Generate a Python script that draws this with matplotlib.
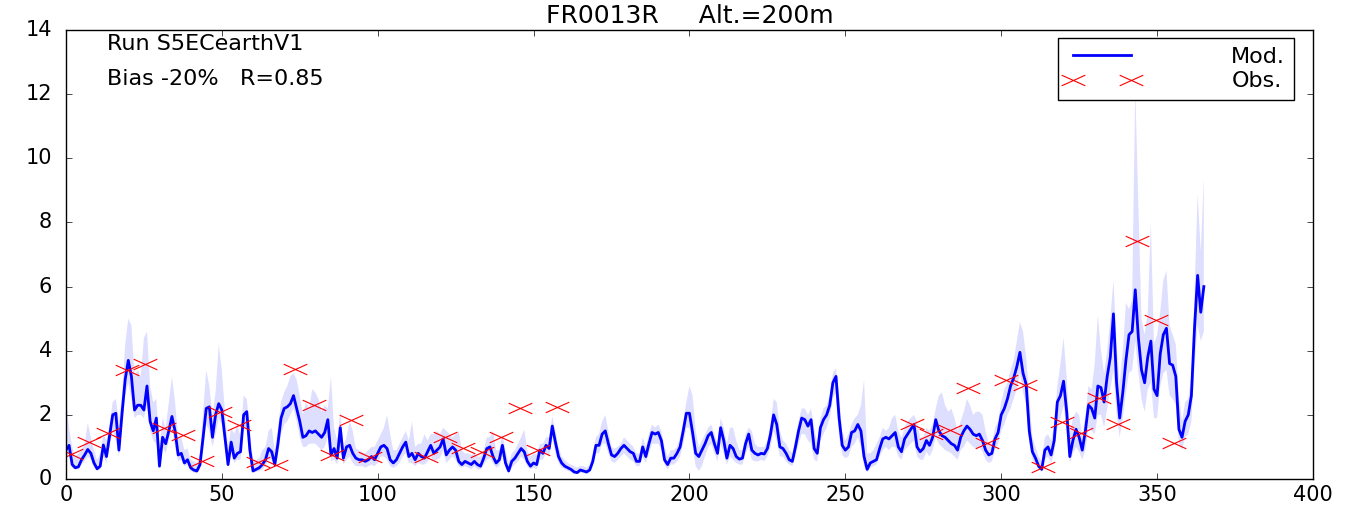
import numpy as np
import matplotlib
matplotlib.use('Agg')
import matplotlib.pyplot as plt
from matplotlib.path import Path

# --- Chart data ---
site = 'FR0013R'
altitude = 200
run_name = 'S5ECearthV1'
bias_pct = -20
corr = 0.85

days = np.arange(366)

mod = [0.9, 1.05, 0.45, 0.35, 0.38, 0.6, 0.75, 0.92, 0.8, 0.5,
       0.32, 0.4, 1.06, 0.7, 1.35, 2.0, 2.05, 0.9, 2.05, 3.1,
       3.7, 3.2, 2.15, 2.3, 2.3, 2.15, 2.9, 1.8, 1.5, 1.9,
       0.4, 1.3, 1.1, 1.5, 1.95, 1.5, 0.75, 0.8, 0.5, 0.6,
       0.35, 0.28, 0.25, 0.45, 1.3, 2.2, 2.25, 1.3, 2.0, 2.35,
       2.15, 1.3, 0.45, 1.15, 0.65, 0.8, 0.85, 2.0, 2.1, 0.9,
       0.25, 0.3, 0.35, 0.45, 0.6, 0.95, 0.85, 0.45, 1.1, 1.9,
       2.2, 2.25, 2.35, 2.6, 2.2, 1.8, 1.3, 1.35, 1.5, 1.45,
       1.5, 1.4, 1.3, 1.45, 1.85, 0.75, 0.95, 0.65, 1.6, 0.65,
       1.0, 1.05, 0.8, 0.65, 0.6, 0.6, 0.55, 0.6, 0.7, 0.6,
       0.8, 1.0, 1.05, 0.95, 0.6, 0.5, 0.6, 0.8, 1.0, 1.15,
       0.7, 0.8, 0.6, 0.8, 0.7, 0.65, 0.85, 1.05, 0.8, 0.9,
       1.0, 1.25, 0.75, 0.9, 1.0, 0.9, 0.55, 0.45, 0.55, 0.5,
       0.45, 0.55, 0.45, 0.4, 0.65, 0.95, 1.0, 0.7, 0.5, 0.6,
       1.05, 0.5, 0.25, 0.55, 0.65, 0.8, 0.95, 0.85, 0.55, 0.4,
       0.5, 0.45, 0.9, 0.8, 1.05, 0.95, 1.65, 1.15, 0.7, 0.5,
       0.4, 0.35, 0.3, 0.22, 0.2, 0.28, 0.25, 0.22, 0.28, 0.55,
       1.05, 1.05, 1.4, 1.5, 1.1, 0.75, 0.7, 0.8, 0.95, 1.05,
       0.95, 0.85, 0.8, 0.55, 0.55, 1.0, 0.7, 1.1, 1.45, 1.4,
       1.45, 1.2, 0.6, 0.45, 0.65, 0.65, 0.8, 1.0, 1.5, 2.05,
       2.05, 1.45, 0.8, 0.7, 0.9, 1.1, 1.35, 1.45, 1.1, 0.8,
       1.6, 1.2, 0.65, 1.05, 0.95, 0.7, 0.62, 0.65, 1.1, 1.4,
       0.9, 0.8, 0.75, 0.8, 0.78, 0.95, 1.4, 2.0, 1.7, 1.0,
       0.95, 0.8, 0.6, 0.55, 1.0, 1.5, 1.9, 1.85, 1.65, 1.85,
       0.95, 0.8, 1.6, 1.85, 2.0, 2.3, 3.0, 3.2, 1.9, 1.05,
       0.9, 1.0, 1.45, 1.5, 1.7, 1.5, 0.7, 0.3, 0.5, 0.55,
       0.6, 0.95, 1.25, 1.3, 1.25, 1.35, 1.45, 1.0, 0.85, 1.25,
       1.4, 1.55, 1.7, 1.0, 0.85, 0.95, 1.2, 1.05, 1.3, 1.85,
       1.5, 1.35, 1.3, 1.2, 1.1, 1.05, 0.9, 1.3, 1.5, 1.65,
       1.55, 1.4, 1.35, 1.4, 1.2, 0.9, 0.75, 0.8, 1.25, 1.45,
       2.0, 2.2, 2.5, 2.9, 3.15, 3.5, 3.95, 3.3, 2.95, 1.5,
       0.85, 0.65, 0.4, 0.3, 0.9, 1.0, 0.75, 1.2, 2.4, 2.6,
       3.05, 2.1, 0.7, 1.2, 1.55, 1.3, 0.9, 1.5, 2.3, 2.2,
       1.9, 2.9, 2.85, 2.4, 3.2, 3.8, 5.15, 3.0, 1.9, 2.7,
       3.7, 4.5, 4.6, 5.9, 4.4, 3.4, 3.0, 3.8, 4.3, 2.8,
       2.6, 3.9, 4.5, 4.7, 3.6, 3.55, 3.2, 1.55, 1.3, 1.8,
       2.0, 2.6, 4.7, 6.35, 5.2, 6.0]

mod_hi = [2.6, 1.6, 1.0, 0.7, 0.8, 0.9, 1.1, 1.75, 1.3, 0.9,
          0.6, 0.8, 1.4, 1.2, 1.7, 2.4, 2.5, 1.8, 2.6, 4.2,
          5.0, 4.8, 3.2, 3.4, 3.2, 4.4, 4.6, 2.9, 2.4, 2.5,
          1.0, 1.9, 1.6, 2.4, 3.2, 2.4, 1.3, 1.3, 0.9, 0.95,
          0.6, 0.55, 0.5, 0.8, 2.1, 3.4, 2.9, 2.0, 2.7, 4.2,
          3.4, 2.1, 1.0, 1.6, 1.4, 1.7, 1.3, 2.6, 2.5, 1.5,
          0.6, 0.6, 0.65, 0.9, 1.0, 1.5, 1.6, 0.9, 1.6, 2.4,
          2.7, 2.9, 3.2, 3.3, 3.1, 2.6, 2.0, 2.4, 2.2, 2.8,
          2.7, 2.5, 2.1, 2.3, 2.2, 3.2, 1.6, 1.2, 2.1, 1.0,
          1.3, 1.8, 1.5, 0.95, 0.9, 0.85, 0.8, 0.9, 1.0, 1.0,
          1.2, 1.4, 1.6, 2.0, 1.4, 0.9, 0.9, 1.1, 1.3, 1.5,
          1.2, 1.8, 1.0, 1.1, 1.1, 1.4, 1.2, 1.4, 1.4, 1.5,
          1.4, 1.6, 1.5, 1.4, 1.3, 1.4, 1.5, 0.9, 0.8, 0.8,
          0.75, 0.8, 0.7, 0.7, 0.9, 1.3, 1.3, 1.5, 0.9, 0.9,
          1.4, 0.9, 0.5, 0.8, 0.9, 1.1, 1.3, 1.55, 0.9, 0.7,
          0.8, 0.75, 1.1, 1.1, 1.3, 1.3, 1.95, 1.5, 1.0, 0.7,
          0.6, 0.5, 0.45, 0.4, 0.35, 0.4, 0.4, 0.35, 0.45, 0.8,
          1.3, 1.4, 1.8, 2.0, 1.5, 1.0, 0.95, 1.0, 1.1, 1.3,
          1.2, 1.1, 1.0, 0.8, 0.8, 1.3, 1.0, 1.4, 1.7, 1.6,
          1.7, 1.5, 1.0, 0.7, 0.9, 0.9, 1.0, 1.3, 1.8, 2.4,
          2.9, 2.6, 1.5, 1.0, 1.2, 1.4, 1.6, 1.7, 1.4, 1.1,
          1.9, 1.6, 1.1, 1.6, 1.6, 1.2, 0.9, 0.9, 1.4, 1.6,
          1.5, 1.1, 1.0, 1.0, 1.0, 1.2, 1.7, 2.5, 2.4, 1.5,
          1.2, 1.1, 0.9, 0.8, 1.3, 1.8, 2.2, 2.2, 2.0, 2.2,
          1.6, 1.1, 1.9, 2.2, 2.3, 2.6, 3.3, 3.45, 2.6, 1.5,
          1.2, 1.4, 1.7, 1.9, 2.0, 2.3, 3.1, 0.8, 0.8, 0.9,
          1.1, 1.3, 1.6, 1.5, 1.6, 1.9, 2.0, 1.5, 1.3, 1.6,
          1.8, 1.9, 2.0, 1.8, 1.3, 1.3, 1.6, 1.5, 1.7, 2.2,
          2.6, 2.7, 2.3, 2.1, 2.2, 1.9, 1.5, 1.8, 2.1, 2.5,
          2.3, 2.0, 2.1, 2.1, 2.0, 1.5, 1.1, 1.1, 1.6, 1.8,
          2.4, 2.8, 3.0, 3.4, 3.7, 4.3, 4.9, 4.6, 3.8, 2.6,
          1.3, 1.0, 0.7, 0.55, 1.3, 1.4, 1.2, 1.7, 2.9, 3.6,
          4.4, 3.2, 1.4, 1.9, 2.1, 2.0, 1.3, 2.0, 2.9, 2.8,
          3.6, 5.1, 4.0, 3.3, 4.0, 5.0, 6.2, 4.2, 3.0, 4.0,
          5.5, 5.3, 5.6, 12.2, 8.5, 5.0, 4.5, 5.2, 8.0, 4.2,
          4.5, 5.2, 6.2, 6.5, 4.8, 4.5, 4.2, 2.6, 1.8, 2.4,
          2.5, 3.2, 5.8, 8.9, 7.1, 9.4]

mod_lo = [0.7, 0.8, 0.35, 0.3, 0.3, 0.45, 0.55, 0.7, 0.6, 0.35,
          0.25, 0.3, 0.7, 0.5, 1.0, 1.5, 1.2, 0.7, 1.6, 2.6,
          3.0, 2.5, 1.9, 2.0, 2.0, 1.9, 2.3, 1.5, 1.2, 1.1,
          0.3, 1.0, 0.8, 1.2, 1.6, 1.0, 0.55, 0.6, 0.4, 0.45,
          0.25, 0.2, 0.18, 0.3, 0.9, 1.7, 1.5, 1.0, 1.4, 1.9,
          1.7, 1.0, 0.35, 0.8, 0.5, 0.6, 0.6, 1.6, 1.6, 0.6,
          0.2, 0.22, 0.25, 0.3, 0.4, 0.6, 0.6, 0.35, 0.7, 1.4,
          1.7, 1.8, 2.0, 2.2, 1.8, 1.3, 1.0, 1.0, 1.1, 1.1,
          1.1, 1.0, 0.9, 1.0, 1.3, 0.55, 0.6, 0.45, 1.0, 0.45,
          0.6, 0.7, 0.5, 0.4, 0.4, 0.4, 0.35, 0.4, 0.45, 0.4,
          0.5, 0.7, 0.7, 0.6, 0.4, 0.35, 0.4, 0.5, 0.7, 0.8,
          0.5, 0.5, 0.4, 0.5, 0.45, 0.45, 0.55, 0.7, 0.55, 0.6,
          0.65, 0.9, 0.5, 0.6, 0.7, 0.6, 0.4, 0.35, 0.4, 0.35,
          0.3, 0.4, 0.3, 0.3, 0.45, 0.6, 0.65, 0.5, 0.35, 0.4,
          0.7, 0.35, 0.2, 0.35, 0.45, 0.55, 0.7, 0.6, 0.4, 0.3,
          0.35, 0.3, 0.6, 0.6, 0.8, 0.7, 1.3, 0.8, 0.5, 0.35,
          0.3, 0.25, 0.22, 0.15, 0.15, 0.2, 0.18, 0.15, 0.2, 0.4,
          0.8, 0.8, 1.1, 1.1, 0.8, 0.55, 0.5, 0.6, 0.7, 0.8,
          0.7, 0.6, 0.55, 0.4, 0.4, 0.7, 0.5, 0.8, 1.1, 1.1,
          1.1, 0.9, 0.45, 0.3, 0.45, 0.45, 0.55, 0.7, 1.1, 1.6,
          1.6, 1.0, 0.4, 0.25, 0.4, 0.7, 1.0, 1.1, 0.8, 0.55,
          1.1, 0.8, 0.45, 0.7, 0.6, 0.5, 0.45, 0.45, 0.8, 1.0,
          0.6, 0.55, 0.55, 0.6, 0.55, 0.7, 1.0, 1.5, 1.2, 0.7,
          0.7, 0.55, 0.45, 0.4, 0.7, 1.1, 1.4, 1.4, 1.2, 1.1,
          0.6, 0.55, 1.2, 1.4, 1.6, 1.9, 2.5, 2.7, 1.3, 0.75,
          0.65, 0.7, 1.0, 1.1, 1.3, 1.0, 0.4, 0.2, 0.35, 0.4,
          0.45, 0.7, 0.9, 1.0, 0.9, 1.0, 1.0, 0.7, 0.6, 0.9,
          1.0, 1.1, 1.2, 0.7, 0.6, 0.6, 0.85, 0.7, 0.9, 1.3,
          1.1, 1.0, 0.9, 0.85, 0.8, 0.7, 0.6, 0.9, 1.0, 1.2,
          1.1, 1.0, 0.95, 1.0, 0.85, 0.6, 0.5, 0.55, 0.9, 1.1,
          1.5, 1.7, 2.0, 2.2, 2.5, 2.8, 3.3, 2.7, 2.3, 1.1,
          0.6, 0.45, 0.3, 0.22, 0.6, 0.7, 0.5, 0.8, 1.6, 1.9,
          2.3, 1.5, 0.5, 0.8, 1.0, 0.85, 0.6, 0.9, 1.6, 1.5,
          1.4, 2.0, 2.0, 1.6, 2.2, 2.8, 3.4, 2.0, 1.3, 1.9,
          2.7, 3.3, 3.4, 4.3, 3.3, 2.5, 2.1, 2.8, 3.0, 1.9,
          1.9, 2.9, 3.3, 3.4, 2.6, 2.5, 2.3, 1.1, 0.9, 1.3,
          1.4, 1.8, 3.5, 4.8, 4.3, 4.6]

obs_day = [1.5, 7.5, 13.5, 19.5, 25.5, 31.5, 37.5, 43.5, 49.5, 55.5,
           61.5, 67.5, 73.5, 79.5, 85.5, 91.5, 97.5, 115.5, 121.5, 127.5,
           133.5, 139.5, 145.5, 151.5, 157.5, 271.5, 277.5, 283.5, 289.5, 295.5,
           301.5, 307.5, 313.5, 319.5, 325.5, 331.5, 337.5, 343.5, 349.5, 355.5]
obs = [0.78, 1.16, 1.42, 3.40, 3.59, 1.58, 1.37, 0.56, 2.10, 1.68,
       0.54, 0.44, 3.43, 2.31, 0.75, 1.84, 0.68, 0.68, 1.30, 0.98,
       0.85, 1.32, 2.20, 0.90, 2.25, 1.71, 1.40, 1.53, 2.83, 1.13,
       3.09, 2.93, 0.38, 1.79, 1.44, 2.52, 1.71, 7.42, 4.96, 1.11]

# flat "x" marker, wider than tall like in the original figure
flat_x = Path([(-1, -0.45), (1, 0.45), (-1, 0.45), (1, -0.45)],
              [Path.MOVETO, Path.LINETO, Path.MOVETO, Path.LINETO])

# --- Plot ---
plt.style.use('classic')
fig = plt.figure(figsize=(13.54, 5.05), dpi=100)
ax = fig.add_axes([0.0487, 0.0515, 0.921, 0.889])

ax.fill_between(days, mod_lo, mod_hi, facecolor='b', edgecolor='none', alpha=0.13)
ax.plot(days, mod, 'b-', linewidth=2, label='Mod.')
ax.plot(obs_day, obs, linestyle='none', marker=flat_x, markersize=17,
        markeredgecolor='r', markeredgewidth=0.8, label='Obs.')

ax.set_xlim(0, 400)
ax.set_ylim(0, 14)
ax.tick_params(labelsize=15)
ax.tick_params(axis='y', pad=10)
ax.set_title(f'{site}     Alt.={altitude}m', fontsize=18)

ax.text(0.033, 0.969, f'Run {run_name}', transform=ax.transAxes,
        fontsize=16, va='center')
ax.text(0.033, 0.891, f'Bias {bias_pct}%   R={corr:.2f}', transform=ax.transAxes,
        fontsize=16, va='center')

ax.legend(loc='upper right', bbox_to_anchor=(0.9848, 0.982), borderaxespad=0,
          numpoints=2, fontsize=16, handlelength=3.2, handletextpad=4.2,
          labelspacing=0.2, borderpad=0.4)

fig.savefig('out.png', dpi=100)
